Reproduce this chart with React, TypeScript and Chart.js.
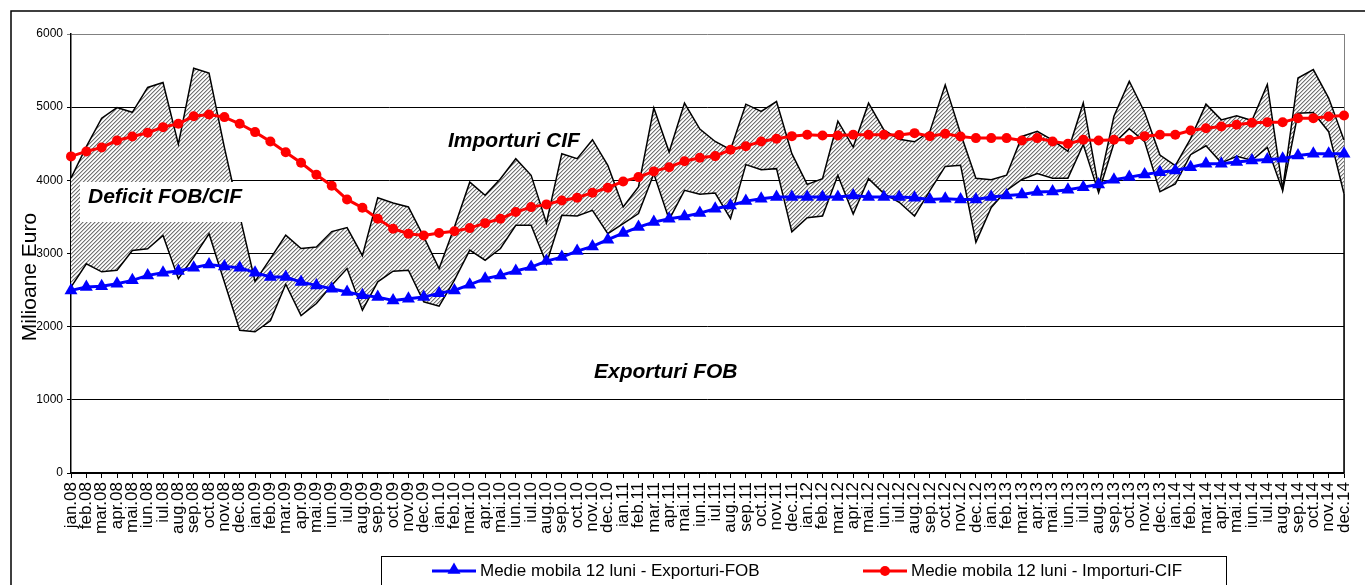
import React, { useEffect, useRef } from 'react';
import { Chart, registerables } from 'chart.js';

Chart.register(...registerables);

const labels = [
  'jan.08','feb.08','mar.08','apr.08','mai.08','iun.08','iul.08','aug.08','sep.08','oct.08','nov.08','dec.08',
  'ian.09','feb.09','mar.09','apr.09','mai.09','iun.09','iul.09','aug.09','sep.09','oct.09','nov.09','dec.09',
  'ian.10','feb.10','mar.10','apr.10','mai.10','iun.10','iul.10','aug.10','sep.10','oct.10','nov.10','dec.10',
  'ian.11','feb.11','mar.11','apr.11','mai.11','iun.11','iul.11','aug.11','sep.11','oct.11','nov.11','dec.11',
  'ian.12','feb.12','mar.12','apr.12','mai.12','iun.12','iul.12','aug.12','sep.12','oct.12','nov.12','dec.12',
  'ian.13','feb.13','mar.13','apr.13','mai.13','iun.13','iul.13','aug.13','sep.13','oct.13','nov.13','dec.13',
  'ian.14','feb.14','mar.14','apr.14','mai.14','iun.14','iul.14','aug.14','sep.14','oct.14','nov.14','dec.14',
];

const importsCIF = [
  4030, 4460, 4850, 4995, 4930, 5270, 5337, 4494, 5533, 5465, 4450, 3520,
  2620, 2930, 3250, 3068, 3090, 3300, 3355, 2970, 3763, 3690, 3636, 3226,
  2795, 3363, 3975, 3795, 4023, 4296, 4068, 3418, 4364, 4296, 4555, 4205,
  3636, 3909, 4990, 4387, 5055, 4700, 4531, 4418, 5041, 4941, 5077, 4364,
  3945, 4023, 4810, 4455, 5055, 4690, 4560, 4527, 4669, 5305, 4640, 4028,
  4008, 4070, 4600, 4670, 4550, 4397, 5058, 3900, 4876, 5355, 4930, 4345,
  4200, 4570, 5041, 4826, 4881, 4817, 5310, 3880, 5399, 5514, 5124, 4550,
];

const exportsFOB = [
  2540, 2860, 2750, 2770, 3040, 3065, 3247, 2656, 2951, 3270, 2610, 1950,
  1930, 2080, 2580, 2150, 2316, 2566, 2794, 2225, 2612, 2758, 2772, 2340,
  2280, 2635, 3045, 2908, 3068, 3386, 3386, 2864, 3522, 3513, 3590, 3272,
  3409, 3545, 4090, 3465, 3863, 3809, 3827, 3477, 4215, 4146, 4160, 3295,
  3490, 3513, 4068, 3540, 4023, 3818, 3700, 3512, 3860, 4190, 4207, 3155,
  3630, 3864, 4012, 4092, 4030, 4030, 4490, 3830, 4508, 4705, 4530, 3845,
  3950, 4350, 4472, 4239, 4330, 4275, 4450, 3860, 4917, 4927, 4665, 3817,
];

const importsMA = [
  4327, 4395, 4450, 4544, 4599, 4650, 4727, 4773, 4877, 4900, 4864, 4773,
  4659, 4531, 4385, 4240, 4077, 3926, 3739, 3625, 3475, 3339, 3270, 3247,
  3280, 3304, 3347, 3415, 3475, 3566, 3634, 3671, 3725, 3762, 3831, 3899,
  3985, 4044, 4122, 4180, 4262, 4309, 4331, 4418, 4467, 4531, 4568, 4604,
  4623, 4613, 4613, 4623, 4623, 4623, 4620, 4645, 4604, 4637, 4600, 4577,
  4577, 4577, 4545, 4577, 4531, 4500, 4555, 4545, 4555, 4555, 4604, 4623,
  4623, 4682, 4713, 4736, 4759, 4787, 4795, 4795, 4850, 4850, 4873, 4887,
];

const exportsMA = [
  2496, 2541, 2551, 2587, 2633, 2701, 2738, 2760, 2806, 2851, 2824, 2806,
  2738, 2678, 2678, 2609, 2564, 2519, 2473, 2428, 2404, 2359, 2382, 2404,
  2458, 2496, 2574, 2656, 2701, 2760, 2814, 2896, 2951, 3033, 3097, 3188,
  3279, 3361, 3429, 3475, 3507, 3552, 3612, 3657, 3716, 3748, 3771, 3771,
  3771, 3771, 3771, 3794, 3771, 3771, 3771, 3762, 3739, 3748, 3739, 3739,
  3771, 3794, 3807, 3839, 3848, 3871, 3907, 3944, 4008, 4044, 4081, 4112,
  4135, 4180, 4227, 4227, 4249, 4272, 4286, 4295, 4340, 4363, 4363, 4363,
];

const yTicks = [0, 1000, 2000, 3000, 4000, 5000, 6000];

const legendExports = 'Medie mobila 12 luni - Exporturi-FOB';
const legendImports = 'Medie mobila 12 luni - Importuri-CIF';
const yTitle = 'Milioane Euro';
const noteImports = 'Importuri CIF';
const noteExports = 'Exporturi FOB';
const noteDeficit = 'Deficit FOB/CIF';

const FONT = 'Arial, "Liberation Sans", sans-serif';

function makeHatch(): CanvasPattern | string {
  const c = document.createElement('canvas');
  c.width = 4;
  c.height = 4;
  const g = c.getContext('2d');
  if (!g) return '#bbb';
  const img = g.createImageData(4, 4);
  const shades = [115, 195, 255, 240];
  for (let y = 0; y < 4; y++) {
    for (let x = 0; x < 4; x++) {
      const s = shades[(x + y) % 4];
      const k = (y * 4 + x) * 4;
      img.data[k] = s;
      img.data[k + 1] = s;
      img.data[k + 2] = s;
      img.data[k + 3] = 255;
    }
  }
  g.putImageData(img, 0, 0);
  return g.createPattern(c, 'repeat') || '#bbb';
}

function drawTriangle(ctx: CanvasRenderingContext2D, x: number, y: number, r: number) {
  ctx.beginPath();
  let rad = 0;
  ctx.moveTo(x + Math.sin(rad) * r, y - Math.cos(rad) * r);
  rad += (2 * Math.PI) / 3;
  ctx.lineTo(x + Math.sin(rad) * r, y - Math.cos(rad) * r);
  rad += (2 * Math.PI) / 3;
  ctx.lineTo(x + Math.sin(rad) * r, y - Math.cos(rad) * r);
  ctx.closePath();
  ctx.fill();
}

const decorPlugin = {
  id: 'decor',
  beforeDraw(chart: any) {
    const ctx = chart.ctx as CanvasRenderingContext2D;
    ctx.save();
    ctx.fillStyle = '#fff';
    ctx.fillRect(0, 0, chart.width, chart.height);
    ctx.strokeStyle = '#000';
    ctx.lineWidth = 1.5;
    ctx.strokeRect(11, 11, chart.width + 20, chart.height + 20);
    ctx.restore();
  },
  beforeDatasetsDraw(chart: any) {
    const ctx = chart.ctx as CanvasRenderingContext2D;
    const a = chart.chartArea;
    ctx.save();
    ctx.strokeStyle = '#808080';
    ctx.lineWidth = 1;
    ctx.beginPath();
    ctx.moveTo(a.right + 0.5, a.top);
    ctx.lineTo(a.right + 0.5, a.bottom);
    ctx.stroke();
    ctx.restore();
  },
  afterDatasetsDraw(chart: any) {
    const ctx = chart.ctx as CanvasRenderingContext2D;
    const a = chart.chartArea;
    const ys = chart.scales.y;
    ctx.save();
    ctx.strokeStyle = '#000';
    ctx.lineWidth = 1.5;
    ctx.beginPath();
    ctx.moveTo(a.right, ys.getPixelForValue(exportsFOB[exportsFOB.length - 1]));
    ctx.lineTo(a.right, a.bottom);
    ctx.stroke();

    ctx.fillStyle = '#fff';
    ctx.fillRect(80, 182, 163, 40);

    ctx.fillStyle = '#000';
    ctx.font = `italic bold 21px ${FONT}`;
    ctx.textBaseline = 'alphabetic';
    ctx.textAlign = 'left';
    ctx.fillText(noteDeficit, 88, 203);
    ctx.fillText(noteImports, 448, 147);
    ctx.fillText(noteExports, 594, 378);

    ctx.save();
    ctx.translate(36, 277);
    ctx.rotate(-Math.PI / 2);
    ctx.font = `21px ${FONT}`;
    ctx.textAlign = 'center';
    ctx.fillText(yTitle, 0, 0);
    ctx.restore();

    ctx.strokeStyle = '#000';
    ctx.lineWidth = 1;
    ctx.strokeRect(381.5, 556.5, 845, 60);

    ctx.lineWidth = 3;
    ctx.strokeStyle = '#0000ff';
    ctx.beginPath();
    ctx.moveTo(432, 571);
    ctx.lineTo(476, 571);
    ctx.stroke();
    ctx.fillStyle = '#0000ff';
    drawTriangle(ctx, 454, 570, 7.5);

    ctx.strokeStyle = '#ff0000';
    ctx.beginPath();
    ctx.moveTo(863, 571);
    ctx.lineTo(907, 571);
    ctx.stroke();
    ctx.fillStyle = '#ff0000';
    ctx.beginPath();
    ctx.arc(885, 571, 5, 0, Math.PI * 2);
    ctx.fill();

    ctx.fillStyle = '#000';
    ctx.font = `17px ${FONT}`;
    ctx.textAlign = 'left';
    ctx.fillText(legendExports, 480, 576);
    ctx.fillText(legendImports, 911, 576);
    ctx.restore();
  },
};

export default function App() {
  const ref = useRef<HTMLCanvasElement | null>(null);

  useEffect(() => {
    if (!ref.current) return;
    const hatch = makeHatch();
    const chart = new Chart(ref.current, {
      type: 'line',
      data: {
        labels,
        datasets: [
          {
            label: 'Exporturi FOB',
            data: exportsFOB,
            borderColor: '#000',
            borderWidth: 1.5,
            pointRadius: 0,
            fill: false,
            order: 2,
          },
          {
            label: 'Importuri CIF',
            data: importsCIF,
            borderColor: '#000',
            borderWidth: 1.5,
            pointRadius: 0,
            backgroundColor: hatch as any,
            fill: 0,
            order: 2,
          },
          {
            label: legendExports,
            data: exportsMA,
            borderColor: '#0000ff',
            backgroundColor: '#0000ff',
            borderWidth: 3,
            pointStyle: 'triangle',
            pointRadius: 7.5,
            pointBorderWidth: 0,
            fill: false,
            order: 1,
          },
          {
            label: legendImports,
            data: importsMA,
            borderColor: '#ff0000',
            backgroundColor: '#ff0000',
            borderWidth: 3,
            pointStyle: 'circle',
            pointRadius: 5,
            pointBorderWidth: 0,
            fill: false,
            order: 1,
          },
        ],
      },
      options: {
        animation: false,
        responsive: false,
        layout: { padding: { left: 0, top: 34, right: 21, bottom: 0 } },
        elements: { line: { tension: 0 } },
        plugins: {
          legend: { display: false },
          tooltip: { enabled: false },
          filler: { propagate: false },
        },
        scales: {
          x: {
            type: 'category',
            offset: false,
            grid: {
              display: true,
              drawOnChartArea: false,
              drawTicks: true,
              tickLength: 5,
              color: '#000',
            },
            border: { display: true, color: '#000', width: 1.5 },
            ticks: {
              autoSkip: false,
              minRotation: 90,
              maxRotation: 90,
              padding: 4,
              color: '#000',
              font: { family: FONT, size: 17 },
            },
            afterFit: (s: any) => {
              s.height = 112;
              s.paddingLeft = 0;
              s.paddingRight = 0;
            },
          },
          y: {
            min: yTicks[0],
            max: yTicks[yTicks.length - 1],
            afterBuildTicks: (s: any) => {
              s.ticks = yTicks.map((v) => ({ value: v }));
            },
            grid: {
              color: (c: any) => (c.tick && c.tick.value === 6000 ? '#808080' : '#000'),
              tickLength: 4,
              drawTicks: true,
            },
            border: { display: true, color: '#000', width: 1.5 },
            ticks: {
              padding: 4,
              color: '#000',
              font: { family: FONT, size: 12 },
              callback: (v: any) => String(v),
            },
            afterFit: (s: any) => {
              s.width = 71;
              s.paddingTop = 0;
              s.paddingBottom = 0;
            },
          },
        },
      } as any,
      plugins: [decorPlugin],
    });
    return () => chart.destroy();
  }, []);

  return (
    <div style={{ position: 'fixed', left: 0, top: 0, width: 1365, height: 585, background: '#fff' }}>
      <canvas ref={ref} width={1365} height={585} />
    </div>
  );
}
